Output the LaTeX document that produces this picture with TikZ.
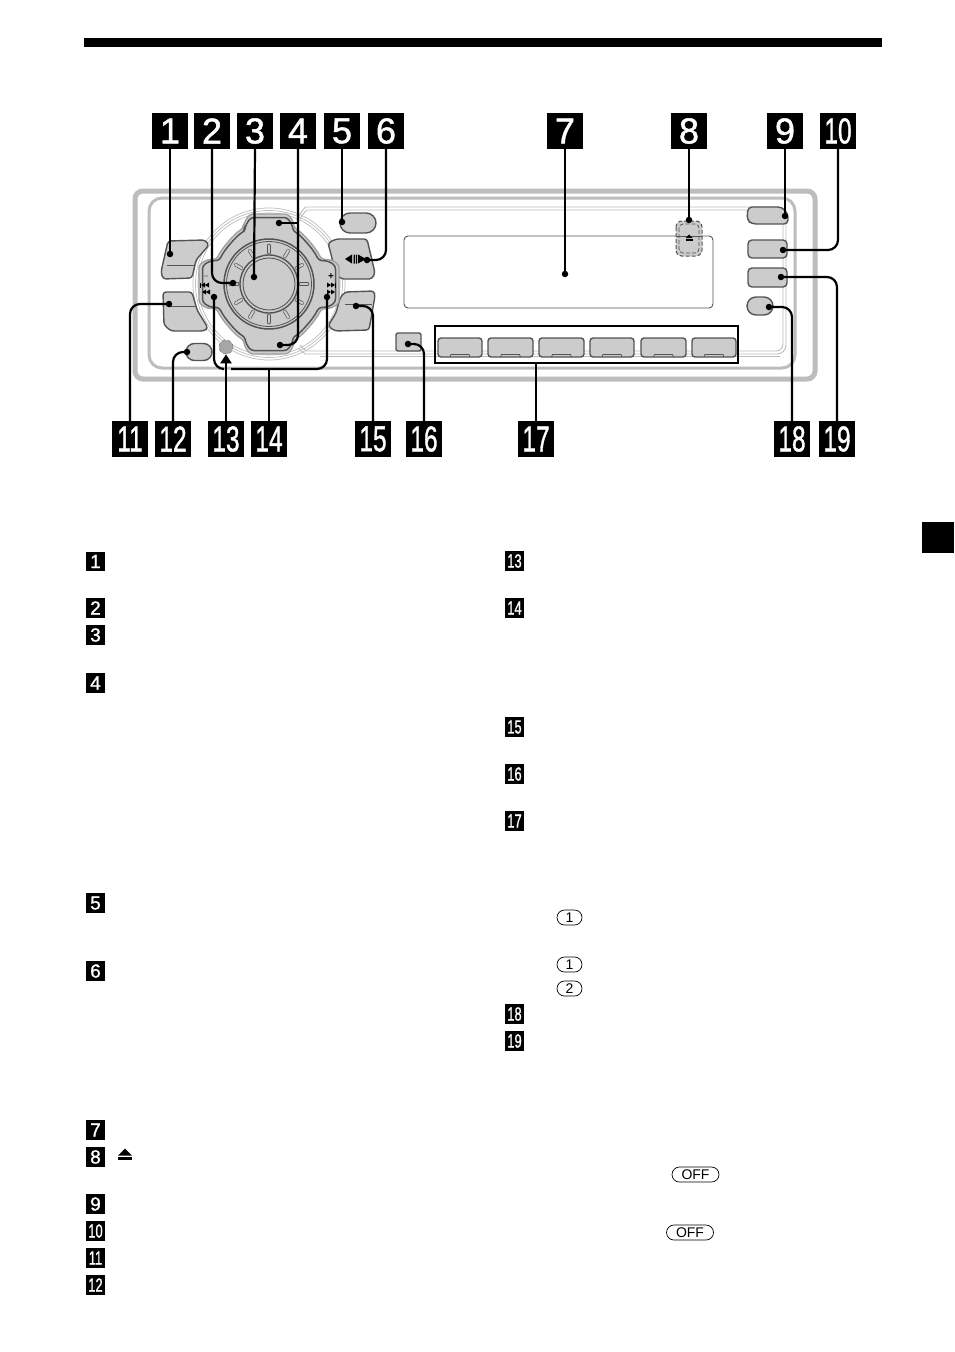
\documentclass[tikz,border=0pt]{standalone}
\usepackage{fontspec}
\usepackage{graphicx}
\setmainfont{Liberation Sans}
\newfontfamily\labfont[FakeBold=1.3]{Liberation Sans}
\usetikzlibrary{arrows.meta,shapes.misc}
\definecolor{btnfill}{gray}{0.80}
\definecolor{btnline}{gray}{0.33}
\definecolor{framec}{gray}{0.74}
\newcommand{\crosspad}{(-26,-55) -- (-24,-63) -- (-19,-70) -- (19,-70) -- (24,-63) -- (26,-55)
 .. controls (33,-52) and (48,-35) .. (52,-25) -- (63,-24) -- (70,-19) -- (70,19) -- (63,24) -- (52,25)
 .. controls (48,35) and (33,52) .. (26,55) -- (24,63) -- (19,70) -- (-19,70) -- (-24,63) -- (-26,55)
 .. controls (-33,52) and (-48,35) .. (-52,25) -- (-63,24) -- (-70,19) -- (-70,-19) -- (-63,-24) -- (-52,-25)
 .. controls (-48,-35) and (-33,-52) .. (-26,-55) -- cycle}
\tikzset{
 biglab/.style={fill=black,text=white,inner sep=0pt,minimum width=36pt,minimum height=36pt,font=\fontsize{36}{36}\selectfont\labfont},
 smalllab/.style={fill=black,text=white,inner sep=0pt,minimum width=19.5pt,minimum height=19.5pt,font=\fontsize{19}{19}\selectfont\labfont},
 conn/.style={line width=2.2pt,black,rounded corners=10pt},
 tip/.style={circle,fill=black,inner sep=0pt,minimum size=6.5pt},
 btn/.style={fill=btnfill,draw=btnline,line width=1.4pt,rounded corners=3pt,line join=round},
 pill/.style={rounded rectangle,draw=btnline,fill=btnfill,line width=1.4pt,inner sep=0pt},
 keycap/.style={rounded rectangle,draw=black,line width=0.7pt,inner sep=0pt,minimum height=15pt,font=\fontsize{14}{14}\selectfont},
 thinln/.style={draw=framec,line width=0.9pt},
 ejectmark/.pic={\fill[black] (-#1,0)--(#1,0)--(0,-#1)--cycle; \fill[black] (-#1,1.2) rectangle (#1,{1.2+0.4*#1});},
 tri/.style={fill=black}
}
\begin{document}
\begin{tikzpicture}[x=1pt,y=-1pt]
\fill[white] (0,0) rectangle (954,1352);
\useasboundingbox (0,0) rectangle (954,1352);
% page marks
\fill[black] (84,38) rectangle (882,47);
\fill[black] (922,522) rectangle (954,553);
% faceplate
\draw[framec,line width=5pt,rounded corners=8pt] (135,191) rectangle (815,379);
\draw[framec,line width=3pt,rounded corners=13pt] (149,198) rectangle (795,368);
% thin outline lines
\draw[thinln,rounded corners=9pt] (299,216) .. controls (302,210) and (306,207) .. (314,207) -- (786,207) -- (786,354) -- (314,354) .. controls (306,354) and (302,352) .. (298,348);
\draw[thinln,rounded corners=7pt] (300,219) .. controls (303,213) and (307,210) .. (314,210) -- (783,210) -- (783,351) -- (314,351) .. controls (307,351) and (303,349) .. (300,345);
\draw[thinln] (320,356) -- (780,356);
% display
\draw[btnline,line width=0.9pt,rounded corners=4pt] (404,236) rectangle (713,308);
% jog rings
\foreach \r in {71,73.5,76} \draw[framec,line width=0.7pt] (269,284) circle[radius=\r];
% left buttons
\draw[btn] (168,241) -- (205,240) -- (209,245) -- (196,260) -- (192,278) -- (163,279) -- (161,272) -- cycle;
\draw[btnline,line width=0.8pt] (167,265) -- (195,265);
\draw[btn] (163,292) -- (192,292) -- (197,310) -- (208,328) -- (204,331) -- (171,331) -- (164,325) -- cycle;
\draw[btnline,line width=0.8pt] (168,306) -- (195,306);
\node[pill,minimum width=26pt,minimum height=17pt] (b12) at (199,352) {};
% right buttons
\draw[btn] (328,243) -- (336,239) -- (367,239) -- (375,273) -- (372,279) -- (341,279) -- (335,272) -- (332,258) -- cycle;
\draw[btn] (345,292) -- (374,291) -- (375,296) -- (369,330) -- (335,331) -- (328,326) -- (336,313) -- (340,298) -- cycle;
\draw[btnline,line width=0.8pt] (345,304) -- (372,304);
\node[pill,minimum width=36pt,minimum height=20pt] (b5) at (358,223) {};
% cross pad
\begin{scope}[shift={(269,284)}]
\draw[fill=btnfill,draw=gray!75,line width=1.3pt,rounded corners=3pt] \crosspad;
\begin{scope}[scale=0.95]
\draw[draw=btnline,line width=1.5pt,rounded corners=3pt] \crosspad;
\end{scope}
\draw[btnline,line width=1.5pt,fill=btnfill] (0,0) circle[radius=45];
\draw[btnline,line width=0.8pt] (0,0) circle[radius=42.5];
\foreach \a in {0,30,...,330}{
  \draw[btnline,line width=3.6pt,line cap=round] ({31.5*cos(\a)},{31.5*sin(\a)}) -- ({38.5*cos(\a)},{38.5*sin(\a)});
  \draw[btnfill,line width=2.2pt,line cap=round] ({31.5*cos(\a)},{31.5*sin(\a)}) -- ({38.5*cos(\a)},{38.5*sin(\a)});
}
\draw[btnline,line width=1.4pt,fill=btnfill] (0,0) circle[radius=29];
\draw[btnline,line width=0.9pt] (0,0) circle[radius=26];
\end{scope}
% lobe symbols
\node[font=\fontsize{9}{9}\selectfont\bfseries,text=gray,inner sep=0pt] (minus) at (206,278) {−};
\node[font=\fontsize{10}{10}\selectfont\bfseries,inner sep=0pt] (plus) at (331,277) {+};
\fill[tri] (201,285)--(205,282.5)--(205,287.5)--cycle (205,285)--(209,282.5)--(209,287.5)--cycle;
\fill[tri] (200,282.5) rectangle (201,287.5);
\fill[tri] (202,292)--(206,289.5)--(206,294.5)--cycle (206,292)--(210,289.5)--(210,294.5)--cycle;
\fill[tri] (335,285)--(331,282.5)--(331,287.5)--cycle (331,285)--(327,282.5)--(327,287.5)--cycle;
\fill[tri] (335,282.5) rectangle (336,287.5);
\fill[tri] (335,292)--(331,289.5)--(331,294.5)--cycle (331,292)--(327,289.5)--(327,294.5)--cycle;
% pause symbol on button 6
\fill[tri] (345,259)--(352,254.5)--(352,263.5)--cycle (358,254.5)--(358,263.5)--(366,259)--cycle;
\fill[tri] (353.5,254.5) rectangle (354.8,263.5) (355.8,254.5) rectangle (357,263.5);
% button 16
\draw[btn,rounded corners=2pt] (396,333) rectangle (421,351);
% presets
\foreach \xa/\xb in {438/482,488/533,539/584,590/634,641/686,692/736}{
  \draw[btn] (\xa,338) rectangle (\xb,357);
  \draw[btnline,line width=0.8pt] ({(\xa+\xb)/2-10},357) -- ({(\xa+\xb)/2-9},354.5) -- ({(\xa+\xb)/2+9},354.5) -- ({(\xa+\xb)/2+10},357);
}
\draw[black,line width=2.2pt] (435,326) rectangle (738,363);
\coordinate (boxb) at (536,363);
% right column
\draw[btn,rounded corners=4pt] (748,207) -- (782,207) -- (788,214) -- (788,224) -- (752,224) -- (747,220) -- cycle;
\draw[btn,rounded corners=4pt] (748,240) -- (787,240) -- (787,258) -- (748,258) -- cycle;
\draw[btn,rounded corners=4pt] (748,268) -- (787,268) -- (787,287) -- (748,287) -- cycle;
\node[pill,minimum width=26pt,minimum height=18pt] (b18) at (760,306) {};
% eject zone
\draw[btnline,fill=btnfill,line width=1pt,dash pattern=on 4pt off 2pt,rounded corners=6pt] (676,221) rectangle (702,256);
\draw[btnline,line width=0.8pt,dash pattern=on 4pt off 2pt,rounded corners=4pt] (679,224) rectangle (699,253);
\draw[btnline,line width=0.9pt] (676,236) -- (702,236);
\pic at (689,238) {ejectmark=3.5};
% big labels
\node[biglab] (l1) at (170,131) {1};
\node[biglab] (l2) at (212,131) {2};
\node[biglab] (l3) at (255,131) {3};
\node[biglab] (l4) at (298,131) {4};
\node[biglab] (l5) at (342,131) {5};
\node[biglab] (l6) at (386,131) {6};
\node[biglab] (l7) at (565,131) {7};
\node[biglab] (l8) at (689,131) {8};
\node[biglab] (l9) at (785,131) {9};
\node[biglab] (l10) at (838,131) {\scalebox{0.68}[1]{10}};
\node[biglab] (l11) at (130,439) {\scalebox{0.68}[1]{11}};
\node[biglab] (l12) at (173,439) {\scalebox{0.68}[1]{12}};
\node[biglab] (l13) at (226,439) {\scalebox{0.68}[1]{13}};
\node[biglab] (l14) at (269,439) {\scalebox{0.68}[1]{14}};
\node[biglab] (l15) at (373,439) {\scalebox{0.68}[1]{15}};
\node[biglab] (l16) at (424,439) {\scalebox{0.68}[1]{16}};
\node[biglab] (l17) at (536,439) {\scalebox{0.68}[1]{17}};
\node[biglab] (l18) at (792,439) {\scalebox{0.68}[1]{18}};
\node[biglab] (l19) at (837,439) {\scalebox{0.68}[1]{19}};
% tips
\node[tip] (d1) at (170,254) {};
\node[tip] (d2) at (233,283) {};
\node[tip] (d3) at (254,277) {};
\node[tip] (d4a) at (279,223) {};
\node[tip] (d4b) at (280,345) {};
\node[tip] (d5) at (342,222) {};
\node[tip] (d6) at (367,260) {};
\node[tip] (d7) at (565,274) {};
\node[tip] (d8) at (689,220) {};
\node[tip] (d9) at (785,216) {};
\node[tip] (d10) at (783,250) {};
\node[tip] (d11) at (169,304) {};
\node[tip] (d12) at (187,352) {};
\node[tip] (d14a) at (214,297) {};
\node[tip] (d14b) at (327,297) {};
\node[tip] (d15) at (356,306) {};
\node[tip] (d16) at (408,344) {};
\node[tip] (d18) at (769,307) {};
\node[tip] (d19) at (781,277) {};
\node[circle,fill=gray!70,draw=gray,dashed,line width=0.6pt,minimum size=14pt,inner sep=0pt] (d13) at (226,347) {};
% connectors
\draw[conn] (l1.south) -- (d1.center);
\draw[conn] (l2.south) |- (d2.center);
\draw[conn] (l3.south) -- (d3.center);
\draw[conn] (l4.south) |- (d4b.center);
\coordinate (j4) at (298,223);
\draw[conn] (j4) -- (d4a.center);
\draw[conn] (l5.south) -- (d5.center);
\draw[conn] (l6.south) |- (d6.center);
\draw[conn] (l7.south) -- (d7.center);
\draw[conn] (l8.south) -- (d8.center);
\draw[conn] (l9.south) -- (d9.center);
\draw[conn] (l10.south) |- (d10.center);
\draw[conn] (l11.north) |- (d11.center);
\draw[conn] (l12.north) |- (d12.center);
\draw[line width=2.2pt,-{Triangle[length=9pt,width=11pt]}] (l13.north) -- (d13.south);
\coordinate (br) at (269,369);
\coordinate (brl) at (222,369);
\coordinate (brr) at (231,369);
\coordinate (brc) at (327,369);
\draw[conn] (l14.north) -- (br);
\draw[conn] (d14a.center) |- (brl);
\draw[conn] (d14b.center) -- (brc) -- (brr);
\draw[conn] (l15.north) |- (d15.center);
\draw[conn] (l16.north) |- (d16.center);
\draw[conn] (l17.north) -- (boxb);
\draw[conn] (l18.north) |- (d18.center);
\draw[conn] (l19.north) |- (d19.center);
% small list labels
\foreach \n/\t/\yy in {s1/1/561.5,s2/2/608,s3/3/635,s4/4/683,s5/5/903,s6/6/971,s7/7/1130,s8/8/1157,s9/9/1204}
  \node[smalllab] (\n) at (95.5,\yy) {\t};
\foreach \n/\t/\yy in {s10/10/1231,s11/11/1258,s12/12/1285}
  \node[smalllab] (\n) at (95.5,\yy) {\scalebox{0.68}[1]{\t}};
\foreach \n/\t/\yy in {s13/13/561,s14/14/608,s15/15/727,s16/16/774,s17/17/821,s18/18/1014,s19/19/1041}
  \node[smalllab] (\n) at (514.5,\yy) {\scalebox{0.68}[1]{\t}};
\pic at (125,1155.5) {ejectmark=7};
% key caps
\node[keycap,minimum width=25pt] (k1) at (569.5,917.5) {1};
\node[keycap,minimum width=25pt] (k2) at (569.5,964.5) {1};
\node[keycap,minimum width=25pt] (k3) at (569.5,988.5) {2};
\node[keycap,minimum width=47pt] (k4) at (695.5,1174.5) {OFF};
\node[keycap,minimum width=47pt] (k5) at (690,1232.5) {OFF};
\end{tikzpicture}
\end{document}
